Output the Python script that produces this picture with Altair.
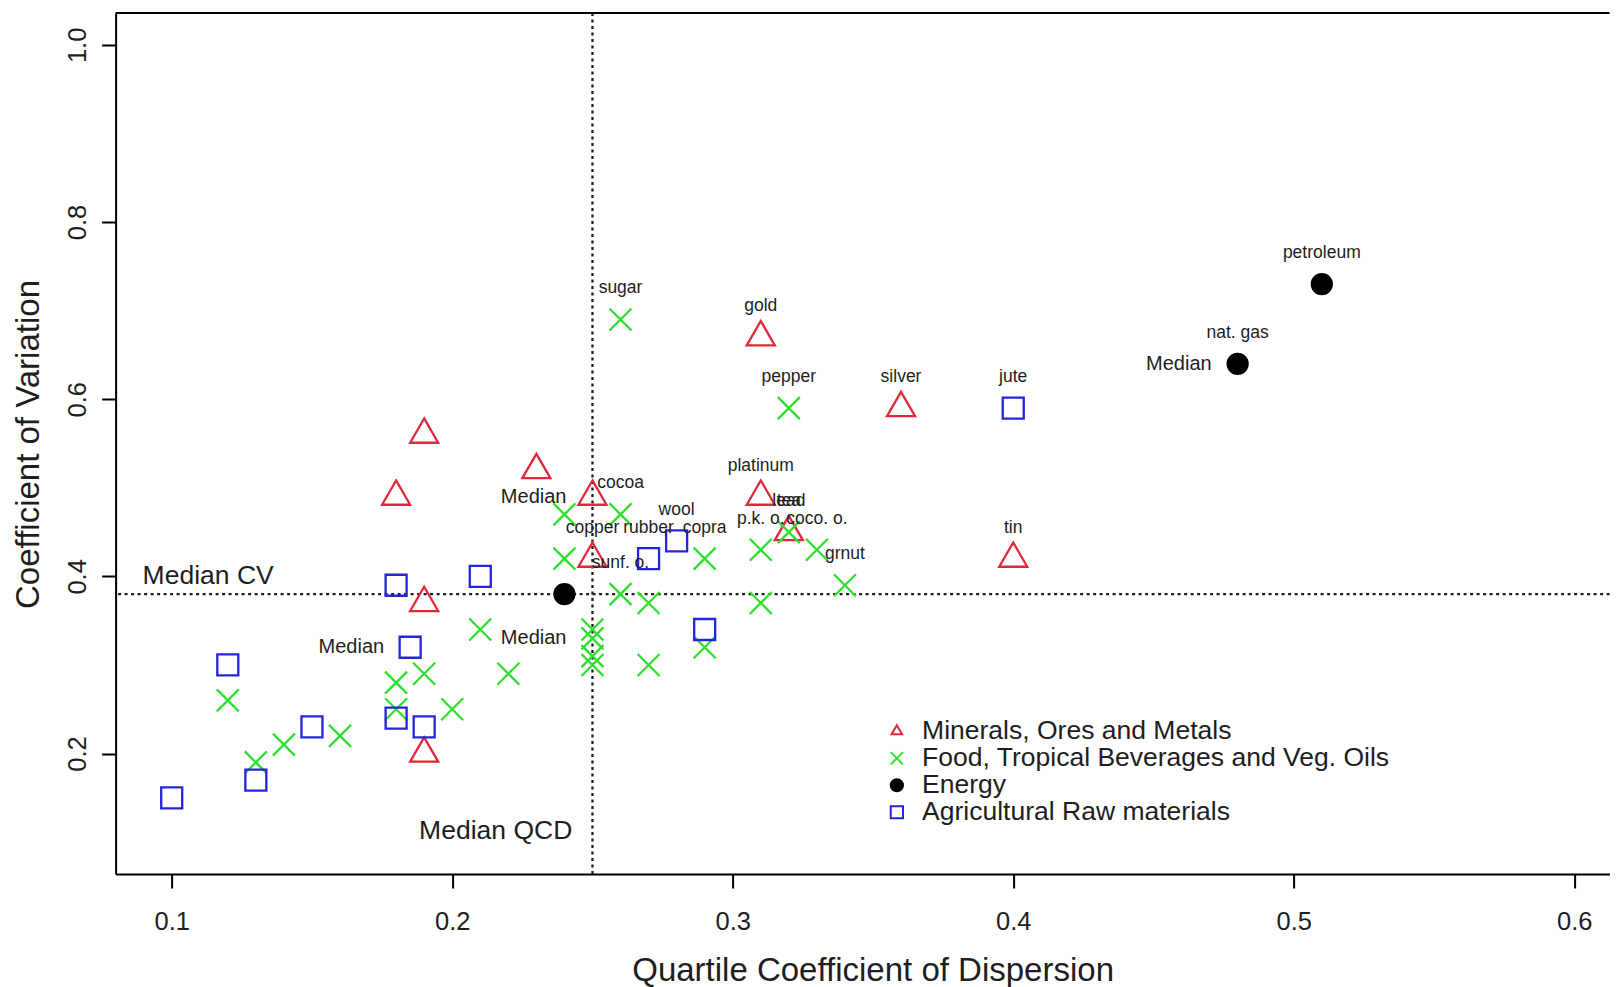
import altair as alt
import pandas as pd

# ---------------- data ----------------
groups = ["Minerals, Ores and Metals", "Food, Tropical Beverages and Veg. Oils",
          "Energy", "Agricultural Raw materials"]

min_x = [0.19, 0.18, 0.23, 0.25, 0.25, 0.31, 0.31, 0.32, 0.36, 0.40, 0.19, 0.19]
min_y = [0.56, 0.49, 0.52, 0.49, 0.42, 0.67, 0.49, 0.45, 0.59, 0.42, 0.37, 0.20]
min_lab = ["", "", "", "", "copper", "gold", "platinum", "lead", "silver", "tin", "", ""]

food_x = [0.12, 0.13, 0.14, 0.16, 0.18, 0.18, 0.19, 0.20, 0.21, 0.22, 0.24, 0.24,
          0.25, 0.25, 0.25, 0.25, 0.26, 0.26, 0.26, 0.27, 0.27, 0.29, 0.29, 0.31,
          0.31, 0.32, 0.32, 0.33, 0.34]
food_y = [0.26, 0.19, 0.21, 0.22, 0.28, 0.25, 0.29, 0.25, 0.34, 0.29, 0.47, 0.42,
          0.34, 0.33, 0.31, 0.30, 0.69, 0.47, 0.38, 0.37, 0.30, 0.42, 0.32, 0.43,
          0.37, 0.59, 0.45, 0.43, 0.39]
food_lab = ["", "", "", "", "", "", "", "", "", "", "", "",
            "", "", "", "", "sugar", "cocoa", "sunf. o.", "", "", "copra", "", "p.k. o.",
            "", "pepper", "tea", "coco. o.", "grnut"]

en_x = [0.51, 0.48, 0.24]
en_y = [0.73, 0.64, 0.38]
en_lab = ["petroleum", "nat. gas", ""]

agri_x = [0.10, 0.12, 0.13, 0.15, 0.18, 0.18, 0.185, 0.19, 0.21, 0.27, 0.28, 0.29, 0.40]
agri_y = [0.15, 0.30, 0.17, 0.23, 0.39, 0.24, 0.32, 0.23, 0.40, 0.42, 0.44, 0.34, 0.59]
agri_lab = ["", "", "", "", "", "", "", "", "", "rubber", "wool", "", "jute"]

med_x = [0.25, 0.25, 0.48, 0.185]
med_y = [0.49, 0.33, 0.64, 0.32]
med_lab = ["Median", "Median", "Median", "Median"]

median_qcd = 0.25
median_cv = 0.38

x_ticks = [0.1, 0.2, 0.3, 0.4, 0.5, 0.6]
y_ticks = [0.2, 0.4, 0.6, 0.8, 1.0]

# marker area per group (style)
group_size = {groups[0]: 1050, groups[1]: 484, groups[2]: 400, groups[3]: 441}

# ---------------- build tables ----------------
rows = []
for g, xs, ys, ls in [(groups[0], min_x, min_y, min_lab),
                      (groups[1], food_x, food_y, food_lab),
                      (groups[2], en_x, en_y, en_lab),
                      (groups[3], agri_x, agri_y, agri_lab)]:
    for a, b, l in zip(xs, ys, ls):
        rows.append({"x": a, "y": b, "group": g, "label": l, "sz": group_size[g]})
df = pd.DataFrame(rows)
df_lab = df[df["label"] != ""]
df_med = pd.DataFrame({"x": med_x, "y": med_y, "label": med_lab})

FONT = "Liberation Sans"
TXT = "#1e1e1e"
RED, GREEN, BLUE = "#e0283a", "#2ee02e", "#2424dc"
XPATH = "M-1,-1L1,1M-1,1L1,-1"
TRIPATH = "M0,-1L0.866,0.5L-0.866,0.5Z"

W, H = 1494, 861
xsc = alt.Scale(domain=[0.08, 0.6126], nice=False, zero=False)
ysc = alt.Scale(domain=[0.064, 1.036], nice=False, zero=False)

X = alt.X("x:Q", scale=xsc, axis=alt.Axis(
    values=x_ticks, format=".1f", title="Quartile Coefficient of Dispersion",
    labelBaseline="middle", labelPadding=33, tickSize=14,
    titleX=757, titleY=96, titleBaseline="middle", titleAlign="center"))
Y = alt.Y("y:Q", scale=ysc, axis=alt.Axis(
    values=y_ticks, format=".1f", title="Coefficient of Variation",
    labelAngle=270, labelAlign="center", labelBaseline="middle", labelPadding=24,
    tickSize=14, titleAngle=270, titleX=-87, titleY=431,
    titleBaseline="middle", titleAlign="center"))

leg = alt.Legend(title=None, orient="none", legendX=768, legendY=705,
                 labelFontSize=26.5, labelFont=FONT, labelColor=TXT,
                 symbolSize=150, symbolStrokeWidth=2, rowPadding=-1,
                 labelOffset=12, padding=0, labelLimit=800)

points = alt.Chart(df).mark_point(strokeWidth=2.3, opacity=1).encode(
    x=X, y=Y,
    shape=alt.Shape("group:N", scale=alt.Scale(domain=groups,
                    range=[TRIPATH, XPATH, "circle", "square"]), legend=leg),
    stroke=alt.Stroke("group:N", scale=alt.Scale(domain=groups,
                      range=[RED, GREEN, "black", BLUE]), legend=leg),
    fill=alt.Fill("group:N", scale=alt.Scale(domain=groups,
                  range=["transparent", "transparent", "black", "transparent"]), legend=leg),
    size=alt.Size("sz:Q", scale=None),
)

labels = alt.Chart(df_lab).mark_text(dy=-31, fontSize=17.5, font=FONT, color=TXT,
                                     baseline="middle").encode(
    x=alt.X("x:Q", scale=xsc), y=alt.Y("y:Q", scale=ysc), text="label:N")

med_labels = alt.Chart(df_med).mark_text(align="right", dx=-26, fontSize=20, font=FONT,
                                         color=TXT, baseline="middle").encode(
    x=alt.X("x:Q", scale=xsc), y=alt.Y("y:Q", scale=ysc), text="label:N")

vline = alt.Chart(pd.DataFrame({"v": [median_qcd]})).mark_rule(
    strokeDash=[3, 3.5], strokeWidth=2.3, color=TXT).encode(x=alt.X("v:Q", scale=xsc))
hline = alt.Chart(pd.DataFrame({"v": [median_cv]})).mark_rule(
    strokeDash=[3, 3.5], strokeWidth=2.3, color=TXT).encode(y=alt.Y("v:Q", scale=ysc))

annot = alt.Chart(pd.DataFrame({"x": [0.113, 0.2155], "y": [0.40, 0.112],
                                "t": ["Median CV", "Median QCD"]})).mark_text(
    fontSize=26.5, font=FONT, color=TXT, baseline="middle").encode(
    x=alt.X("x:Q", scale=xsc), y=alt.Y("y:Q", scale=ysc), text="t:N")

topline = alt.Chart(pd.DataFrame({"a": [0]})).mark_rule(color="black", strokeWidth=2).encode(
    x=alt.value(0), x2=alt.value(W), y=alt.value(0))

chart = alt.layer(hline, vline, points, labels, med_labels, annot, topline).properties(
    width=W, height=H,
    autosize=alt.AutoSizeParams(type="none"),
    padding={"left": 107.6, "top": 5, "right": 0.4, "bottom": 113},
    background="white",
).configure_view(strokeWidth=0).configure_axis(
    grid=False, domainColor="black", domainWidth=2, tickColor="black", tickWidth=2,
    labelFont=FONT, labelFontSize=25.5, labelColor=TXT,
    titleFont=FONT, titleFontSize=33, titleFontWeight="normal", titleColor=TXT,
)

chart.save("out.html", embed_options={"renderer": "svg", "actions": False})
